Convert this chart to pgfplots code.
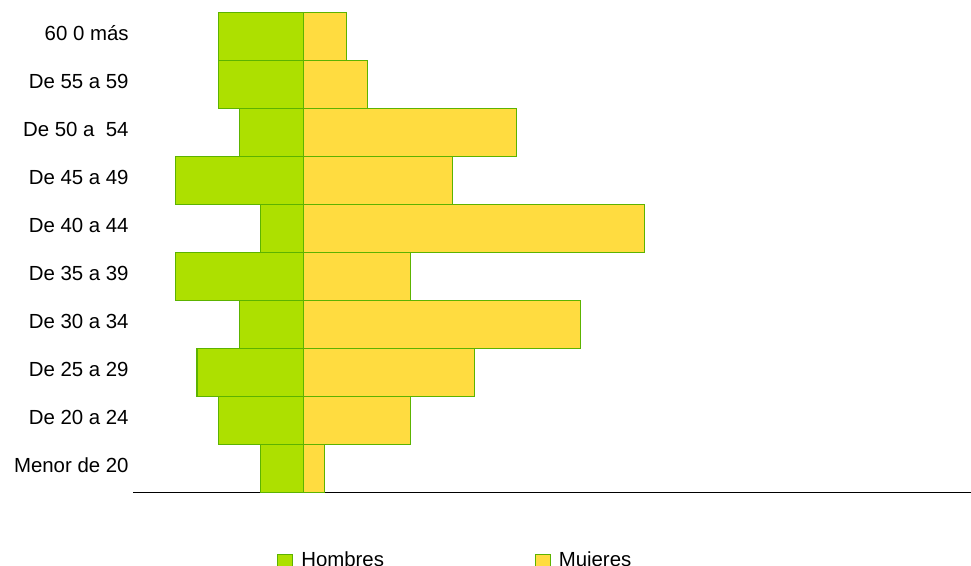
\documentclass[border=0pt]{standalone}
\usepackage{fontspec}
\setmainfont{Liberation Sans}
\usepackage{pgfplots}
\pgfplotsset{compat=1.18}
\definecolor{hombres}{HTML}{ADE000}
\definecolor{mujeres}{HTML}{FFDC40}
\definecolor{borde}{HTML}{5CB300}

\begin{document}
\begin{tikzpicture}
\path[use as bounding box] (0pt,0pt) rectangle (728.25pt,-424.5pt);
\begin{axis}[
    at={(99.75pt,-369.375pt)}, anchor=south west,
    scale only axis,
    width=628.5pt, height=360pt,
    xmin=-8, xmax=31.3,
    ymin=-0.5, ymax=9.5,
    axis x line=bottom,
    axis y line=left,
    x axis line style={-, black, line width=0.8pt},
    y axis line style={draw=none},
    xtick=\empty,
    ytick={0,...,9},
    yticklabels={Menor de 20,De 20 a 24,De 25 a 29,De 30 a 34,De 35 a 39,
                 De 40 a 44,De 45 a 49,De 50 a\ \ 54,De 55 a 59,60 0 más},
    ytick style={draw=none},
    yticklabel style={font=\fontsize{15.3}{18}\selectfont, anchor=east,
                      xshift=4.5pt, yshift=2.5pt},
    xbar, bar shift=0pt, bar width=1,
    legend columns=2,
    legend style={draw=none, inner sep=0pt, at={(0.1718,-0.14)}, anchor=west,
        font=\fontsize{15.3}{18}\selectfont,
        nodes={yshift=1.5pt},
        /tikz/every odd column/.append style={column sep=4pt},
        /tikz/every even column/.append style={column sep=111pt}},
    legend image code/.code={\draw[#1] (0pt,-5.6pt) rectangle (11.25pt,5.6pt);},
]
% Hombres (negativos), Menor de 20 ... 60 o mas
\addplot[fill=hombres, draw=borde, line width=0.8pt] coordinates {
    (-2,0) (-4,1) (-5,2) (-3,3) (-6,4) (-2,5) (-6,6) (-3,7) (-4,8) (-4,9)};
\addplot[fill=mujeres, draw=borde, line width=0.8pt] coordinates {
    (1,0) (5,1) (8,2) (13,3) (5,4) (16,5) (7,6) (10,7) (3,8) (2,9)};
\legend{Hombres, Mujeres}
\end{axis}
\end{tikzpicture}
\end{document}
